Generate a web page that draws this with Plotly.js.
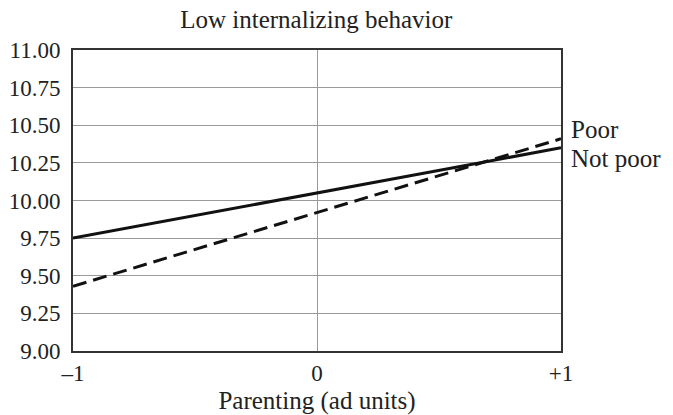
<!DOCTYPE html>
<html>
<head>
<meta charset="utf-8">
<script src="https://cdn.plot.ly/plotly-3.0.1.min.js"></script>
<style>html,body{margin:0;padding:0;background:#fff;}#chart{width:673px;height:415px;}</style>
</head>
<body>
<div id="chart"></div>
<script>
const parenting = [-1, 1];
const notPoor = [9.75, 10.35];
const poor = [9.43, 10.41];
const seriesNames = ["Not poor", "Poor"];
const xTickVals = [-1, 0, 1];
const xTickText = ["\u20131", "0", "+1"];
const yTickVals = [9.00, 9.25, 9.50, 9.75, 10.00, 10.25, 10.50, 10.75, 11.00];
const yTickText = ["9.00", "9.25", "9.50", "9.75", "10.00", "10.25", "10.50", "10.75", "11.00"];

const font = "Liberation Serif, DejaVu Serif, serif";
const txt = "#222";
const traces = [
  {x: parenting, y: notPoor, name: seriesNames[0], mode: "lines",
   line: {color: "#111", width: 3}},
  {x: parenting, y: poor, name: seriesNames[1], mode: "lines",
   line: {color: "#111", width: 3, dash: "14px,7px"}}
];
const layout = {
  width: 673, height: 415,
  margin: {l: 73, r: 112, t: 50, b: 64},
  paper_bgcolor: "#fff", plot_bgcolor: "#fff",
  showlegend: false,
  font: {family: font, color: txt, size: 23},
  title: {text: "Low internalizing behavior", x: 0.47, xanchor: "center", y: 0.953, yanchor: "middle",
          font: {family: font, size: 25, color: txt}},
  xaxis: {range: [-1, 1], tickvals: xTickVals, ticktext: xTickText,
          showgrid: true, gridcolor: "#9a9a9a", gridwidth: 1,
          zeroline: false, showline: true, linecolor: "#333", linewidth: 2, mirror: true,
          ticks: "", tickfont: {family: font, size: 23, color: txt},
          title: {text: "Parenting (ad units)", standoff: 8, font: {family: font, size: 25, color: txt}}},
  yaxis: {range: [9, 11], tickvals: yTickVals, ticktext: yTickText,
          showgrid: true, gridcolor: "#9a9a9a", gridwidth: 1,
          zeroline: false, showline: true, linecolor: "#333", linewidth: 2, mirror: true,
          ticks: "", ticklabelstandoff: 6, tickfont: {family: font, size: 23, color: txt}},
  annotations: [
    {x: 1, y: poor[1], xref: "x", yref: "y", text: seriesNames[1], showarrow: false,
     xanchor: "left", yanchor: "middle", xshift: 8, yshift: 9, font: {family: font, size: 25, color: txt}},
    {x: 1, y: notPoor[1], xref: "x", yref: "y", text: seriesNames[0], showarrow: false,
     xanchor: "left", yanchor: "middle", xshift: 8, yshift: -11, font: {family: font, size: 25, color: txt}}
  ]
};
Plotly.newPlot("chart", traces, layout, {displayModeBar: false, staticPlot: true});
</script>
</body>
</html>
